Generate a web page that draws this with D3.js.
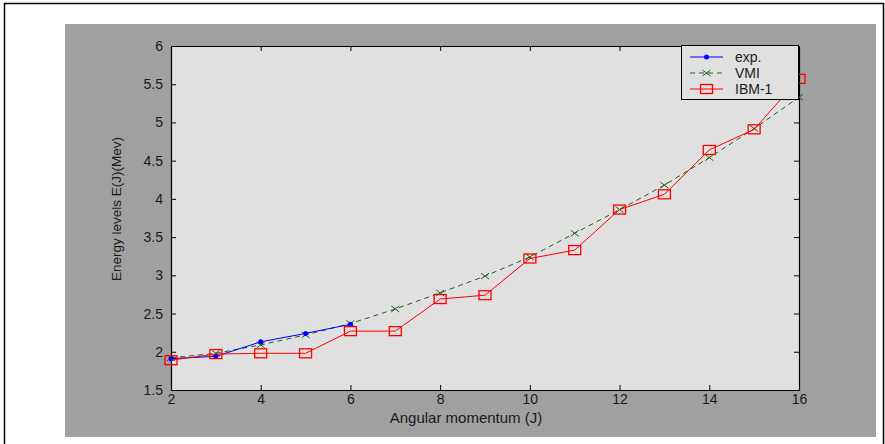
<!DOCTYPE html>
<html><head><meta charset="utf-8">
<script src="https://cdn.jsdelivr.net/npm/d3@7"></script>
<style>html,body{margin:0;padding:0;background:#fff;}svg{display:block;}</style>
</head><body>
<svg id="c" width="885" height="444"></svg>
<script>
const J = [2,3,4,5,6,7,8,9,10,11,12,13,14,15,16];
const expJ = [2,3,4,5,6];
const expE = [1.91, 1.94, 2.13, 2.24, 2.36];
const vmiE = [1.92, 1.98, 2.09, 2.22, 2.37, 2.56, 2.77, 2.99, 3.24, 3.55, 3.86, 4.18, 4.54, 4.92, 5.33];
const ibmE = [1.89, 1.97, 1.98, 1.98, 2.27, 2.27, 2.69, 2.74, 3.22, 3.33, 3.86, 4.06, 4.64, 4.91, 5.57];
const xTicks = [2,4,6,8,10,12,14,16];
const yTicks = [1.5,2,2.5,3,3.5,4,4.5,5,5.5,6];
const seriesNames = ["exp.", "VMI", "IBM-1"];

const svg = d3.select("#c");
const font = "'Liberation Sans', Arial, sans-serif";
// outer border
svg.append("rect").attr("x",4.5).attr("y",3.5).attr("width",879).attr("height",442)
  .attr("fill","#fff").attr("stroke","#000").attr("stroke-width",1.5);
// figure panel
svg.append("rect").attr("x",65).attr("y",24).attr("width",811).attr("height",413).attr("fill","#a0a0a0");

const L=171, R=799, T=46, B=390;
const x = d3.scaleLinear().domain([2,16]).range([L,R]);
const y = d3.scaleLinear().domain([1.5,6]).range([B,T]);

svg.append("rect").attr("x",L).attr("y",T).attr("width",R-L).attr("height",B-T).attr("fill","#e0e0e0");

const tl = 5;
const g = svg.append("g");
const axB = g.append("g").attr("transform",`translate(0,${B})`).call(d3.axisBottom(x).tickValues(xTicks).tickSizeInner(-tl).tickSizeOuter(0).tickPadding(4).tickFormat(d3.format("d")));
const axT = g.append("g").attr("transform",`translate(0,${T})`).call(d3.axisTop(x).tickValues(xTicks).tickSizeInner(-tl).tickSizeOuter(0).tickFormat(""));
const axL = g.append("g").attr("transform",`translate(${L},0)`).call(d3.axisLeft(y).tickValues(yTicks).tickSizeInner(-tl).tickSizeOuter(0).tickPadding(8).tickFormat(d=>String(d)));
const axR = g.append("g").attr("transform",`translate(${R},0)`).call(d3.axisRight(y).tickValues(yTicks).tickSizeInner(-tl).tickSizeOuter(0).tickFormat(""));
[axB,axT,axL,axR].forEach(a=>{
  a.selectAll("path").attr("stroke","#000").attr("stroke-width",1.2);
  a.selectAll("line").attr("stroke","#000");
  a.selectAll("text").attr("fill","#1a1a1a").style("font-family",font).style("font-size","14px");
});
axT.selectAll(".tick").filter(d=>d===2||d===16).remove();
axB.selectAll(".tick line").filter(d=>d===2||d===16).remove();
axL.selectAll(".tick line").filter(d=>d===1.5||d===6).remove();
axR.selectAll(".tick").filter(d=>d===1.5||d===6).remove();

// titles
svg.append("text").attr("x",466).attr("y",423).attr("text-anchor","middle")
  .style("font-family",font).style("font-size","15px").attr("fill","#1a1a1a").text("Angular momentum (J)");
svg.append("text").attr("transform",`translate(121,209) rotate(-90)`).attr("text-anchor","middle")
  .style("font-family",font).style("font-size","13.5px").attr("fill","#1a1a1a").text("Energy levels E(J)(Mev)");

const cBlue="#0000ff", cGreen="#1f5f1f", cRed="#ff0000";
const line = d3.line().x(d=>x(d[0])).y(d=>y(d[1]));
const vmi = J.map((j,i)=>[j,vmiE[i]]);
const ibm = J.map((j,i)=>[j,ibmE[i]]);
const ex = expJ.map((j,i)=>[j,expE[i]]);

svg.append("path").attr("d",line(vmi)).attr("fill","none").attr("stroke",cGreen).attr("stroke-width",1).attr("stroke-dasharray","5,4");
function xMark(sel, cx, cy, col){
  sel.append("path").attr("d",`M${cx-4},${cy-3}L${cx+4},${cy+3}M${cx-4},${cy+3}L${cx+4},${cy-3}`).attr("stroke",col).attr("stroke-width",1).attr("fill","none");
}
vmi.forEach(d=>xMark(svg, x(d[0]), y(d[1]), cGreen));
svg.append("path").attr("d",line(ex)).attr("fill","none").attr("stroke",cBlue).attr("stroke-width",1);
svg.selectAll(".ed").data(ex).join("circle").attr("cx",d=>x(d[0])).attr("cy",d=>y(d[1])).attr("r",2.5).attr("fill",cBlue);
svg.append("path").attr("d",line(ibm)).attr("fill","none").attr("stroke",cRed).attr("stroke-width",1);
svg.selectAll(".ib").data(ibm).join("rect").attr("x",d=>x(d[0])-6).attr("y",d=>y(d[1])-4.5).attr("width",12).attr("height",9)
  .attr("fill","none").attr("stroke",cRed).attr("stroke-width",1.3);

// legend
const lg = svg.append("g");
lg.append("rect").attr("x",681.5).attr("y",45.5).attr("width",117).attr("height",54).attr("fill","#e0e0e0").attr("stroke","#000").attr("stroke-width",1);
const ly=[57,73,89], cols=[cBlue,cGreen,cRed];
seriesNames.forEach((n,i)=>{
  const ln = lg.append("line").attr("x1",690).attr("x2",723).attr("y1",ly[i]).attr("y2",ly[i]).attr("stroke",cols[i]).attr("stroke-width",1);
  if(i===1) ln.attr("stroke-dasharray","5,4");
  const mx=706.5;
  if(i===0) lg.append("circle").attr("cx",mx).attr("cy",ly[i]).attr("r",2.5).attr("fill",cBlue);
  if(i===1) xMark(lg,mx,ly[i],cGreen);
  if(i===2) lg.append("rect").attr("x",mx-6).attr("y",ly[i]-4.5).attr("width",12).attr("height",9).attr("fill","none").attr("stroke",cRed).attr("stroke-width",1.3);
  lg.append("text").attr("x",735).attr("y",ly[i]+5).style("font-family",font).style("font-size","14px").attr("fill","#1a1a1a").text(n);
});
</script>
</body></html>
